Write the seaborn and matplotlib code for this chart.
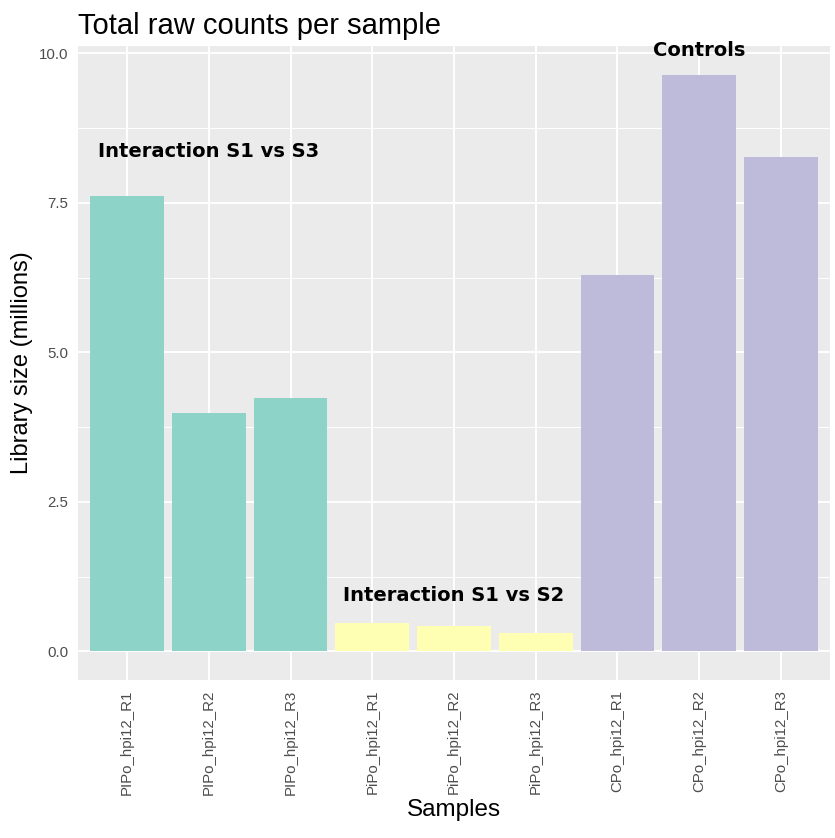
import pandas as pd
import seaborn as sns
import matplotlib.pyplot as plt
from matplotlib.ticker import MultipleLocator

samples = ['PIPo_hpi12_R1', 'PIPo_hpi12_R2', 'PIPo_hpi12_R3',
           'PiPo_hpi12_R1', 'PiPo_hpi12_R2', 'PiPo_hpi12_R3',
           'CPo_hpi12_R1', 'CPo_hpi12_R2', 'CPo_hpi12_R3']
groups = ['S1vsS3'] * 3 + ['S1vsS2'] * 3 + ['Control'] * 3
counts = [7.61, 3.98, 4.23, 0.47, 0.43, 0.30, 6.30, 9.63, 8.26]
group_colors = {'S1vsS3': '#8DD3C7', 'S1vsS2': '#FFFFB3', 'Control': '#BEBADA'}

labels = ['Interaction S1 vs S3', 'Interaction S1 vs S2', 'Controls']
label_x = [1, 4, 7]
label_y = [8.35, 0.94, 10.05]

df = pd.DataFrame({'Sample': samples, 'Group': groups, 'Counts': counts})

sns.set_theme(style="darkgrid", rc={
    'axes.facecolor': '#EBEBEB', 'grid.color': 'white',
    'axes.edgecolor': 'white', 'text.color': 'black',
    'axes.labelcolor': 'black'})
plt.rcParams['font.family'] = ['Liberation Sans', 'DejaVu Sans']

fig = plt.figure(figsize=(8.35, 8.38), dpi=100)
ax = fig.add_axes([0.0934, 0.1885, 0.9006, 0.7565])

sns.barplot(data=df, x='Sample', y='Counts', hue='Group', palette=group_colors,
            order=samples, dodge=False, width=0.9, legend=False, ax=ax,
            saturation=1, linewidth=0, edgecolor='none')

for t, x, y in zip(labels, label_x, label_y):
    ax.text(x, y, t, ha='center', va='center', fontsize=14, fontweight='bold',
            color='black', family='DejaVu Sans')

ax.set_ylim(-0.48, 10.12)
ax.set_xlim(-0.6, 8.6)
ax.yaxis.set_minor_locator(MultipleLocator(1.25))
ax.set_yticks([0, 2.5, 5, 7.5, 10])
ax.set_yticklabels(['0.0', '2.5', '5.0', '7.5', '10.0'])
ax.grid(True, which='major', color='white', linewidth=1.4)
ax.grid(True, which='minor', axis='y', color='white', linewidth=0.7)
ax.set_axisbelow(True)
for s in ax.spines.values():
    s.set_visible(False)

ax.tick_params(axis='both', which='major', length=4, width=1, color='#333333',
               labelcolor='#4D4D4D', labelsize=10.8, pad=3)
ax.tick_params(axis='y', which='minor', length=0)
plt.setp(ax.get_xticklabels(), rotation=90, va='top', ha='center')

ax.set_title('Total raw counts per sample', fontsize=21, loc='left', pad=9,
             color='black')
ax.set_xlabel('Samples', fontsize=17.5, labelpad=3)
ax.set_ylabel('Library size (millions)', fontsize=17)

fig.savefig('out.png', dpi=100)
